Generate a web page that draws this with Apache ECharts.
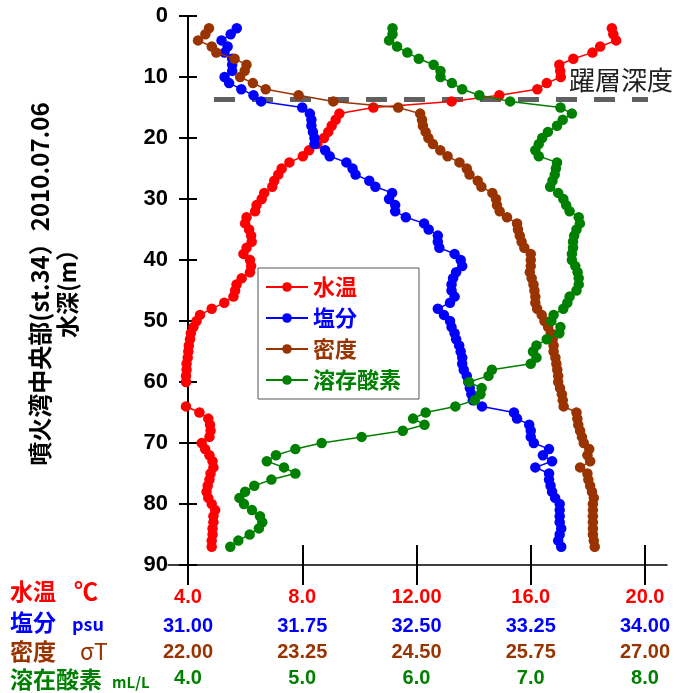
<!DOCTYPE html>
<html>
<head>
<meta charset="utf-8">
<script src="https://cdn.jsdelivr.net/npm/echarts@6/dist/echarts.min.js"></script>
<style>
  html, body { margin: 0; padding: 0; background: #fff; }
  #main { width: 680px; height: 693px; }
</style>
</head>
<body>
<div id="main"></div>
<script>
// depth of each cast sample (m)
var depths = [2,3,4,5,6,7,8,9,10,11,12,13,14,15,16,17,18,19,20,21,22,23,24,25,26,27,28,29,30,
  31,32,33,34,35,36,37,38,39,40,41,42,43,44,45,46,47,48,49,50,51,52,53,54,55,56,57,58,59,60,
  61,62,63,64,65,66,67,68,69,70,71,72,73,74,75,76,77,78,79,80,81,82,83,84,85,86,87];

// 水温 (℃)  null = no reading
var temperature = [18.84,18.89,18.99,18.43,18.16,17.49,17.00,17.03,17.05,16.56,16.23,14.90,13.23,10.49,
  9.30,9.17,9.03,8.91,8.76,8.53,8.24,8.02,7.55,7.28,7.16,7.02,6.95,6.67,6.58,
  6.40,6.35,6.05,6.00,6.14,6.21,6.23,6.05,5.94,6.17,6.21,6.17,5.88,5.70,5.65,5.59,5.27,4.83,4.42,4.30,
  4.19,4.10,4.07,4.03,4.01,3.99,3.95,3.95,3.93,3.93,
  null,null,null,3.93,4.40,4.71,4.77,4.79,4.75,4.48,4.60,4.75,4.86,4.89,4.79,4.75,4.69,4.65,4.71,4.83,
  4.95,4.89,4.89,4.86,4.86,4.83,4.83];

// 塩分 (psu)
var salinity = [31.32,31.28,31.22,31.26,31.24,31.29,31.29,31.29,31.24,31.27,31.35,31.43,31.48,31.75,
  31.80,31.81,31.81,31.82,31.83,31.83,31.90,31.93,32.04,32.08,32.10,32.19,32.23,32.34,32.32,
  32.36,32.36,32.43,32.55,32.58,32.64,32.64,32.65,32.75,32.79,32.80,32.76,32.74,32.73,32.73,32.75,32.72,32.64,32.68,32.72,
  32.73,32.75,32.76,32.78,32.79,32.80,32.80,32.81,32.83,32.84,
  32.85,32.86,32.87,32.93,33.14,33.16,33.24,33.25,33.25,33.27,33.37,33.33,33.39,33.28,33.37,33.37,33.38,33.39,33.41,33.44,
  33.44,33.44,33.44,33.45,33.44,33.43,33.45];

// 密度 (σT)
var density = [22.23,22.19,22.11,22.26,22.31,22.51,22.64,22.62,22.57,22.71,22.85,23.21,23.59,24.30,
  24.54,24.56,24.57,24.60,24.63,24.68,24.76,24.84,24.97,25.05,25.08,25.17,25.21,25.33,25.37,
  25.38,25.41,25.49,25.60,25.61,25.63,25.65,25.68,25.75,25.75,25.75,25.74,25.76,25.78,25.79,25.80,25.80,25.82,25.87,25.90,
  25.94,25.97,25.99,26.00,26.00,26.02,26.03,26.04,26.05,26.05,
  26.07,26.09,26.10,26.11,26.25,26.26,26.27,26.29,26.31,26.33,26.39,26.37,26.40,26.29,26.37,26.38,26.40,26.42,26.44,26.43,
  26.43,26.43,26.43,26.43,26.43,26.44,26.45];

// 溶存酸素 (mL/L)
var oxygen = [5.79,5.79,5.76,5.83,5.92,6.02,6.15,6.21,6.21,6.31,6.40,6.55,6.82,7.26,
  7.36,7.28,7.23,7.15,7.10,7.07,7.04,7.07,7.23,7.22,7.21,7.19,7.17,7.24,7.285,
  7.31,7.34,7.42,7.43,7.40,7.38,7.37,7.37,7.36,7.36,7.39,7.41,7.42,7.42,7.40,7.34,7.32,7.285,7.20,7.18,
  7.26,7.25,7.14,7.05,7.02,7.05,7.00,6.66,6.63,6.46,
  6.57,6.56,6.51,6.34,6.08,5.97,6.07,5.88,5.52,5.17,4.94,4.77,4.69,4.84,4.94,4.73,4.58,4.50,4.45,4.49,
  4.56,4.63,4.65,4.62,4.54,4.44,4.37];

// 躍層深度 (m) and the temperature span of its dashed marker
var thermoclineDepth = 13.7;
var thermoclineSpan = [4.91, 20.63];

var tempTicks = ['4.0','8.0','12.00','16.0','20.0'];
var salTicks = ['31.00','31.75','32.50','33.25','34.00'];
var denTicks = ['22.00','23.25','24.50','25.75','27.00'];
var oxyTicks = ['4.0','5.0','6.0','7.0','8.0'];

var seriesNames = ['水温','塩分','密度','溶存酸素'];
var seriesColors = ['#ff0000','#0000ff','#993300','#008000'];

function pairs(values) {
  var out = [];
  for (var i = 0; i < depths.length; i++) {
    if (values[i] != null) out.push([values[i], depths[i]]);
  }
  return out;
}

var numFont = "'Liberation Sans', 'Noto Sans CJK JP', sans-serif";
var jpFont = "'Noto Sans CJK JP', sans-serif";
var crossLine = {show: true, lineStyle: {color: '#000', width: 2}};

function labelAxis(min, max, interval, ticks, color, offset) {
  return {
    type: 'value', gridIndex: 0, position: 'bottom',
    min: min, max: max, interval: interval, offset: offset,
    axisLine: {show: false, onZero: false},
    axisTick: {show: false},
    splitLine: {show: false},
    axisLabel: {
      margin: 22, color: color, fontSize: 20, fontWeight: 'bold', fontFamily: numFont,
      formatter: function (v, i) { return ticks[i]; }
    }
  };
}

var series = [];
series.push({
  name: '躍層', type: 'line', xAxisIndex: 0, yAxisIndex: 0, z: 1,
  data: [[thermoclineSpan[0], thermoclineDepth], [thermoclineSpan[1], thermoclineDepth]],
  symbol: 'none', clip: false, silent: true,
  lineStyle: {color: '#606060', width: 5, type: [21, 17]}
});
var allValues = [temperature, salinity, density, oxygen];
for (var s = 0; s < 4; s++) {
  series.push({
    name: seriesNames[s], type: 'line', xAxisIndex: s, yAxisIndex: 0, z: 3 + s,
    data: pairs(allValues[s]),
    symbol: 'circle', symbolSize: 10.5, clip: false,
    itemStyle: {color: seriesColors[s]},
    lineStyle: {color: seriesColors[s], width: 1.5}
  });
}

var option = {
  animation: false,
  backgroundColor: '#ffffff',
  grid: [
    {left: 188, width: 457, top: 16, bottom: 128},   // data
    {left: 168, right: 13, top: 16, bottom: 128},    // long bottom line
    {left: 188, width: 457, top: 545, height: 40},   // band holding the crossing x ticks
    {left: 179, width: 18, top: 16, bottom: 128}     // band holding the crossing depth ticks
  ],
  legend: {
    orient: 'vertical', left: 258, top: 268,
    padding: [8, 18, 8, 7], itemGap: 9, itemWidth: 42, itemHeight: 12,
    backgroundColor: '#ffffff', borderColor: '#555555', borderWidth: 1,
    data: seriesNames.map(function (n, i) {
      return {name: n, textStyle: {color: seriesColors[i]}};
    }),
    textStyle: {fontSize: 22, fontWeight: 'bold', fontFamily: jpFont}
  },
  xAxis: [
    labelAxis(4, 20, 4, tempTicks, '#ff0000', 0),
    labelAxis(31, 34, 0.75, salTicks, '#0000ff', 29),
    labelAxis(22, 27, 1.25, denTicks, '#993300', 55),
    labelAxis(4, 8, 1, oxyTicks, '#008000', 81),
    {type: 'value', gridIndex: 1, position: 'bottom', min: 0, max: 1,
      axisLine: {show: true, onZero: false, lineStyle: {color: '#000', width: 1.5}},
      axisTick: {show: false}, axisLabel: {show: false}, splitLine: {show: false}},
    {type: 'value', gridIndex: 2, min: 4, max: 20, interval: 4,
      axisLine: {show: false}, axisTick: {show: false}, axisLabel: {show: false},
      splitLine: crossLine},
    {type: 'value', gridIndex: 3, show: false, min: 0, max: 1}
  ],
  yAxis: [
    {type: 'value', gridIndex: 0, inverse: true, min: 0, max: 90, interval: 10,
      axisLine: {show: true, lineStyle: {color: '#000', width: 2}},
      axisTick: {show: false},
      splitLine: {show: false},
      axisLabel: {margin: 20, color: '#000', fontSize: 22, fontWeight: 'bold', fontFamily: numFont}},
    {type: 'value', gridIndex: 1, show: false, min: 0, max: 1},
    {type: 'value', gridIndex: 2, show: false, min: 0, max: 1},
    {type: 'value', gridIndex: 3, inverse: true, min: 0, max: 90, interval: 10,
      axisLine: {show: false}, axisTick: {show: false}, axisLabel: {show: false},
      splitLine: crossLine}
  ],
  graphic: [
    {type: 'text', x: 40, y: 284, rotation: Math.PI / 2,
      style: {text: '噴火湾中央部(st.34）2010.07.06', fill: '#000', align: 'center', verticalAlign: 'middle',
        font: 'bold 24px ' + jpFont}},
    {type: 'text', x: 67, y: 288, rotation: Math.PI / 2,
      style: {text: '水深(m）', fill: '#000', align: 'center', verticalAlign: 'middle',
        font: 'bold 23px ' + jpFont}},
    {type: 'text', x: 569, y: 80,
      style: {text: '躍層深度', fill: '#222', verticalAlign: 'middle', font: 'normal 26px ' + jpFont}},
    {type: 'text', x: 10, y: 591,
      style: {text: '水温', fill: '#ff0000', verticalAlign: 'middle', font: 'bold 23px ' + jpFont}},
    {type: 'text', x: 74, y: 591,
      style: {text: '℃', fill: '#ff0000', verticalAlign: 'middle', font: 'bold 24px ' + jpFont}},
    {type: 'text', x: 10, y: 622,
      style: {text: '塩分', fill: '#0000ff', verticalAlign: 'middle', font: 'bold 23px ' + jpFont}},
    {type: 'text', x: 72, y: 624,
      style: {text: 'psu', fill: '#0000ff', verticalAlign: 'middle', font: 'bold 18px ' + jpFont}},
    {type: 'text', x: 10, y: 651,
      style: {text: '密度', fill: '#993300', verticalAlign: 'middle', font: 'bold 23px ' + jpFont}},
    {type: 'text', x: 80, y: 651,
      style: {text: 'σT', fill: '#993300', verticalAlign: 'middle', font: 'normal 23px ' + jpFont}},
    {type: 'text', x: 10, y: 679,
      style: {text: '溶在酸素', fill: '#008000', verticalAlign: 'middle', font: 'bold 23px ' + jpFont}},
    {type: 'text', x: 112, y: 682,
      style: {text: 'mL/L', fill: '#008000', verticalAlign: 'middle', font: 'bold 15px ' + jpFont}}
  ],
  series: series
};

var myChart = echarts.init(document.getElementById('main'));
myChart.setOption(option);
</script>
</body>
</html>
